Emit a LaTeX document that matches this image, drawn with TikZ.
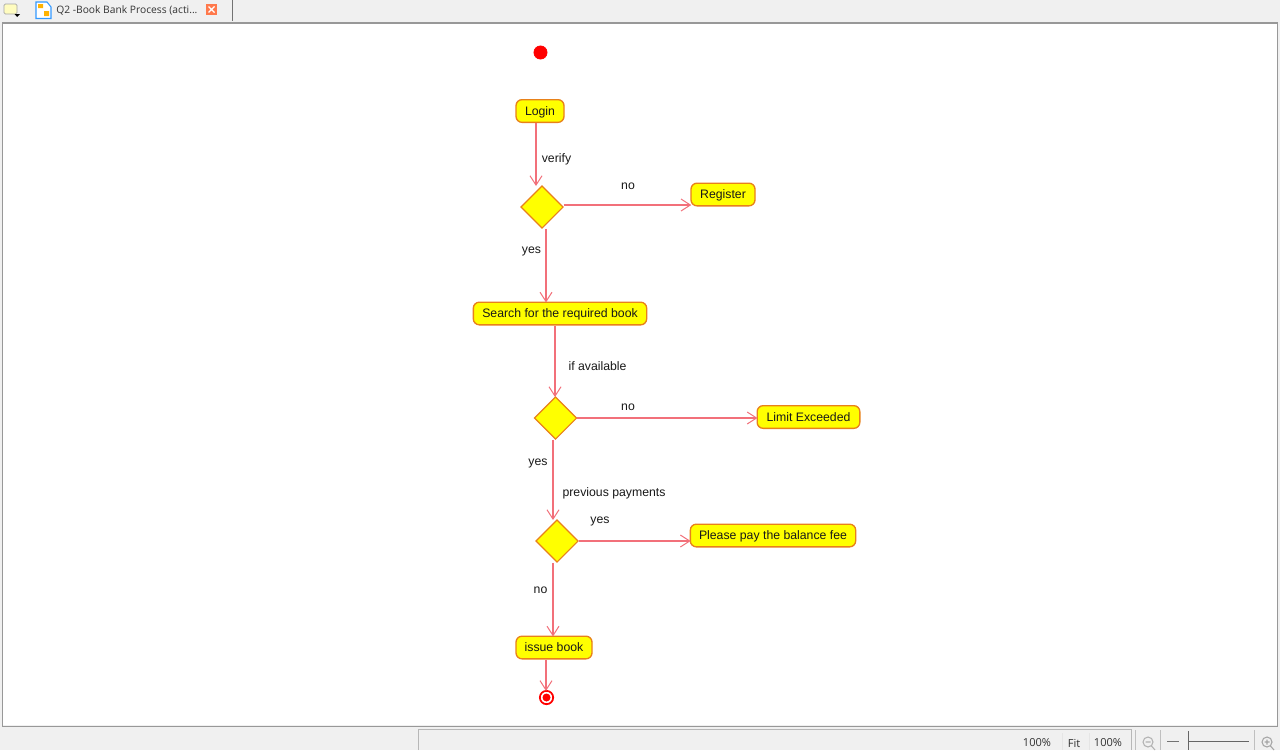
\documentclass[tikz,border=0pt]{standalone}
\usepackage{fontspec}
\setmainfont{Liberation Sans}
\newfontfamily\uifont{Open Sans}
\usetikzlibrary{arrows.meta,shapes.geometric}
\definecolor{nodefill}{HTML}{FFFF00}
\definecolor{nodeline}{HTML}{E8811A}
\definecolor{connline}{HTML}{F2707A}
\definecolor{chrome}{HTML}{F0F0F0}
\definecolor{chromeline}{HTML}{989898}
\tikzset{
  actbox/.style={draw=nodeline,fill=nodefill,rounded corners=4.5pt,line width=1pt,inner sep=0pt,minimum height=17pt,text height=8pt,text depth=1.9pt,font=\fontsize{9.2pt}{11pt}\selectfont,text=black!90},
  decide/.style={diamond,draw=nodeline,fill=nodefill,line width=0.9pt,inner sep=0pt,minimum width=32pt,minimum height=32pt},
  conn/.style={draw=connline,line width=0.9pt,shorten >=-0.7pt,-{Straight Barb[length=7pt,width=9pt,line width=0.75pt]}},
  lab/.style={font=\fontsize{9.2pt}{11pt}\selectfont,text=black!90,inner sep=0pt,text height=8pt,text depth=1.9pt},
  ui/.style={font=\uifont\fontsize{7.7pt}{9pt}\selectfont,text=black!80,inner sep=0pt},
  uibig/.style={ui,font=\uifont\fontsize{8.3pt}{10pt}\selectfont},
}
\begin{document}
\begin{tikzpicture}[x=0.75pt,y=-0.75pt]
\useasboundingbox (0,0) rectangle (1280,750);
% window chrome
\fill[chrome] (0,0) rectangle (1280,750);
\fill[white] (3,24) rectangle (1277,725);
\draw[chromeline,line width=1.1pt] (2.5,23) -- (1277.5,23) -- (1277.5,726.5) -- (2.5,726.5) -- cycle;
\draw[black!55,line width=0.8pt] (232.5,0) -- (232.5,21);
\draw[chromeline!70,line width=0.7pt] (418.5,750) -- (418.5,729.5) -- (1131,729.5) -- (1131,750);
\draw[black!10,line width=0.7pt] (1062,733) -- (1062,750) (1089,733) -- (1089,750);
\draw[black!25,line width=0.7pt] (1135,730) -- (1135,750) (1160,730) -- (1160,750) (1254,730) -- (1254,750);
% tab icons
\draw[black!35,fill=yellow!25!white,line width=0.5pt,rounded corners=1pt] (4,4) rectangle (17,14);
\fill[black] (14.5,14) -- (20,14) -- (17.2,17) -- cycle;
\draw[blue!50!cyan!80,fill=white,line width=0.8pt] (36,2) -- (47,2) -- (51,7) -- (51,18.5) -- (36,18.5) -- cycle;
\fill[orange!60!yellow] (38,4) rectangle (43,8) (44,11) rectangle (49,16);
\fill[red!50!orange!70] (206,4) rectangle (217,15);
\draw[white,line width=1pt] (208.5,6.5) -- (214.5,12.5) (214.5,6.5) -- (208.5,12.5);
\node[ui,anchor=west] (tabtitle) at (56,10.5) {Q2 -Book Bank Process (acti...};
% status bar
\node[uibig,anchor=center] (zoomone) at (1037,743) {100\%};
\node[uibig,anchor=center] (fit) at (1074,743) {Fit};
\node[uibig,anchor=center] (zoomtwo) at (1108,743) {100\%};
\draw[black!30,line width=0.8pt] (1148,742) circle[radius=5] (1151.5,746) -- (1155,750) (1145.5,742) -- (1150.5,742);
\draw[black!55,line width=0.7pt] (1167,741) -- (1179,741);
\draw[black!60,line width=0.7pt] (1188,731) -- (1188,750) (1188,741) -- (1249,741);
\draw[black!35,line width=0.8pt] (1267,742) circle[radius=5] (1270.5,746) -- (1274,750) (1264.5,742) -- (1269.5,742) (1267,739.5) -- (1267,744.5);
% diagram
\node[circle,fill=red,draw=red,inner sep=0pt,minimum size=10pt] (start) at (540.5,52.5) {};
\node[actbox,minimum width=36pt] (login) at (540,111) {Login};
\node[decide] (dverify) at (542,207) {};
\node[actbox,minimum width=48pt] (register) at (723,194.5) {Register};
\node[actbox,minimum width=130pt] (search) at (560,313.5) {Search for the required book};
\node[decide] (davail) at (555.5,418) {};
\node[actbox,minimum width=77pt] (limit) at (808.5,417) {Limit Exceeded};
\node[decide] (dpay) at (557,541) {};
\node[actbox,minimum width=124pt] (please) at (773,535.5) {Please pay the balance fee};
\node[actbox,minimum width=57pt] (issue) at (554,647.5) {issue book};
\node[circle,draw=red,fill=white,line width=1.3pt,inner sep=0pt,minimum size=10pt] (finish) at (546.5,697.5) {};
\node[circle,fill=red,inner sep=0pt,minimum size=6pt] (finishdot) at (546.5,697.5) {};
% connectors
\draw[conn] (login.south -| 536,0) -- (dverify.north -| 536,0);
\draw[conn] (dverify.east |- 0,205) -- (register.west |- 0,205);
\draw[conn] (dverify.south -| 546,0) -- (search.north -| 546,0);
\draw[conn] (search.south -| 555,0) -- (davail.north -| 555,0);
\draw[conn] (davail.east) -- (limit.west |- davail.east);
\draw[conn] (davail.south -| 553,0) -- (dpay.north -| 553,0);
\draw[conn] (dpay.east) -- (please.west |- dpay.east);
\draw[conn] (dpay.south -| 553,0) -- (issue.north -| 553,0);
\draw[conn] (issue.south -| 546,0) -- (finish.north -| 546,0);
% labels
\node[lab] (lverify) at (556.5,158) {verify};
\node[lab] (lno1) at (628,185) {no};
\node[lab] (lyes1) at (531.5,249.5) {yes};
\node[lab] (lavail) at (597.5,366) {if available};
\node[lab] (lno2) at (628,406.5) {no};
\node[lab] (lyes2) at (538,461.5) {yes};
\node[lab] (lprev) at (614,492) {previous payments};
\node[lab] (lyes3) at (600,519) {yes};
\node[lab] (lno3) at (540.5,589) {no};
\end{tikzpicture}
\end{document}
